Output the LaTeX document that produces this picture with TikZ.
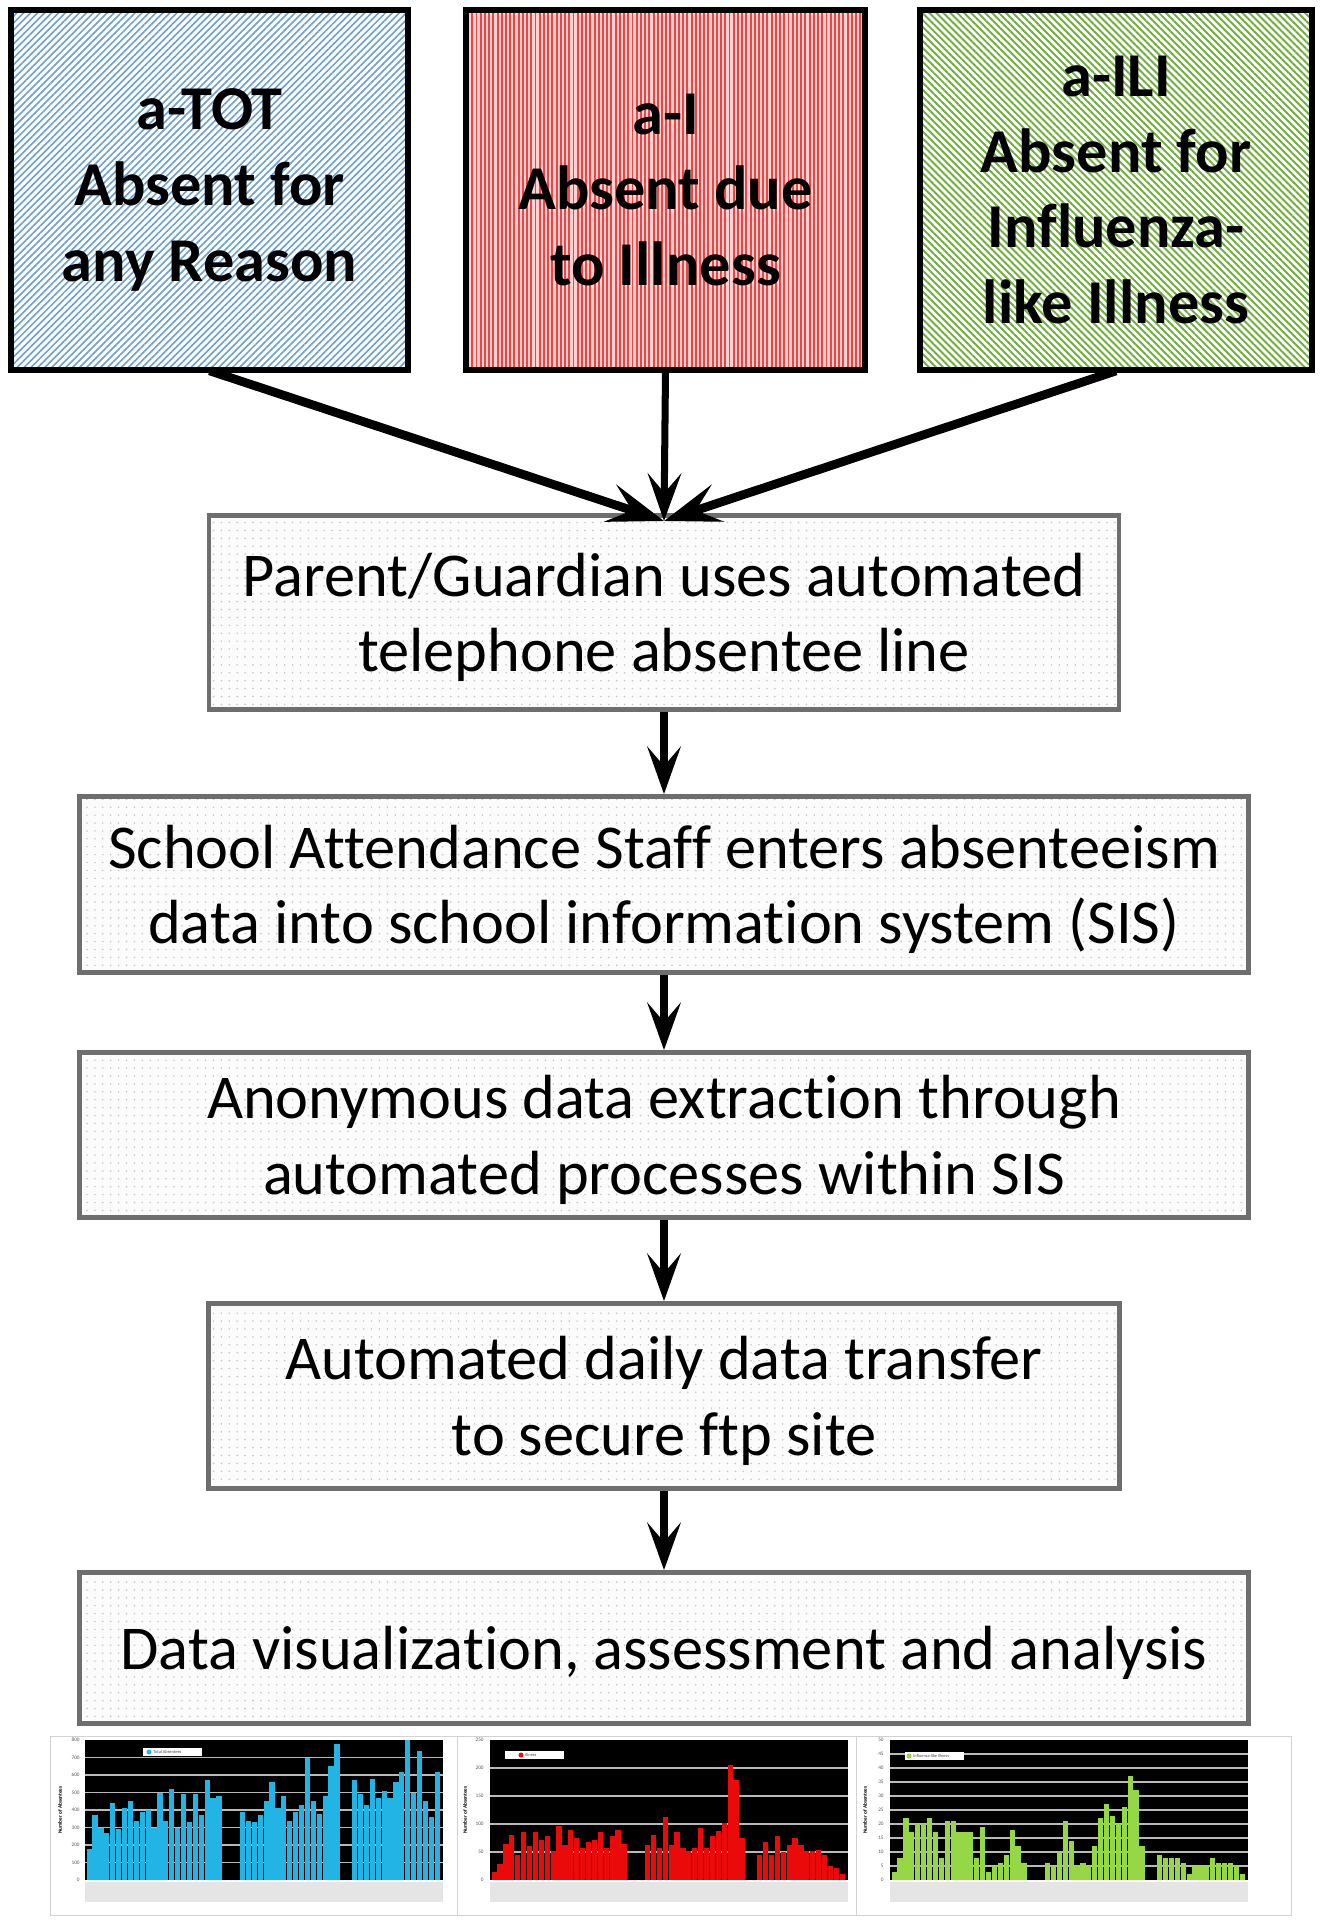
\documentclass[tikz,border=0pt]{standalone}
\usepackage{fontspec}
\setmainfont{Carlito}[Ligatures=NoCommon]
\usepackage{tikz}
\usetikzlibrary{arrows.meta, positioning, patterns.meta}

\definecolor{hatchblue}{RGB}{105,160,210}
\definecolor{hatchred}{RGB}{235,70,70}
\definecolor{hatchgreen}{RGB}{110,175,60}
\definecolor{boxgray}{RGB}{110,110,110}
\definecolor{barblue}{RGB}{35,180,230}
\definecolor{barred}{RGB}{235,10,10}
\definecolor{bargreen}{RGB}{150,215,70}

\begin{document}
\begin{tikzpicture}[x=0.02cm, y=-0.02cm,
		absence/.style={draw=black, line width=3.4pt, minimum height=7.2cm, align=center, inner sep=0pt, font=\bfseries\fontsize{35.5}{43}\selectfont},
		process/.style={draw=boxgray, line width=2.7pt, preaction={fill=gray!3}, pattern={Dots[distance=4.5pt, radius=0.5pt]}, pattern color=gray!45, align=center, inner sep=0pt, text depth=0pt, font=\fontsize{35.5}{43}\selectfont},
		feed/.style={line width=5pt, -{Stealth[length=32pt, width=22pt, inset=13pt]}},
		flow/.style={line width=4pt, -{Stealth[length=27pt, width=19pt, inset=11pt]}},
		chart/.style={draw=gray!35, line width=0.5pt, fill=white},
		gridline/.style={draw=gray!55, line width=0.6pt},
		tick/.style={font=\fontsize{3}{3}\selectfont, text=gray!70!black, inner sep=0pt, anchor=east},
		axistitle/.style={font=\bfseries\fontsize{3}{3}\selectfont, rotate=90, inner sep=0pt},
		legend/.style={fill=white, minimum width=1.18cm, minimum height=0.16cm, inner sep=0pt},
		legendtext/.style={font=\fontsize{2.5}{3}\selectfont, text=gray!60!black, inner sep=0pt, anchor=west}
		]
		\useasboundingbox (0,0) rectangle (1332,1922);
		
		% absence categories
		\node [absence, minimum width=7.94cm, preaction={fill=white}, pattern={Lines[angle=45, distance=2.8pt, line width=0.9pt]}, pattern color=hatchblue] (tot) at (209.5,190) {a-TOT\\Absent for\\any Reason};
		\node [absence, minimum width=7.98cm, preaction={fill=red!18}, pattern={Lines[angle=90, distance=2.4pt, line width=1.1pt]}, pattern color=hatchred] (ill) at (665.5,190) {a-I\\Absent due\\to Illness};
		\node [absence, minimum width=7.84cm, preaction={fill=white}, pattern={Lines[angle=-45, distance=2.8pt, line width=1.1pt]}, pattern color=hatchgreen] (ili) at (1116,190) {a-ILI\\Absent for\\Influenza-\\like Illness};
		
		% process steps
		\node [process, minimum width=18.2cm, minimum height=3.88cm] (call) at (664,612.5) {Parent/Guardian uses automated\\telephone absentee line};
		\node [process, minimum width=23.38cm, minimum height=3.52cm] (sis) at (664,884.5) {School Attendance Staff enters absenteeism\\data into school information system (SIS)};
		\node [process, minimum width=23.38cm, minimum height=3.3cm] (extract) at (664,1135) {Anonymous data extraction through\\automated processes within SIS};
		\node [process, minimum width=18.22cm, minimum height=3.7cm] (ftp) at (664,1396) {Automated daily data transfer\\to secure ftp site};
		\node [process, minimum width=23.38cm, minimum height=3.02cm] (analysis) at (664,1648) {Data visualization, assessment and analysis};
		
		\coordinate (merge) at (664,521);
		
		\draw[feed] (tot.south) -- (merge);
		\draw[flow] (ill.south) -- (merge);
		\draw[feed] (ili.south) -- (merge);
		
		\draw[flow] (call) -- (sis);
		\draw[flow] (sis) -- (extract);
		\draw[flow] (extract) -- (ftp);
		\draw[flow] (ftp) -- (analysis);
		
		% chart of all absences
		\draw[chart] (50,1736) rectangle (457,1915);
		\fill[black] (85,1740) rectangle (443,1880);
		\fill[gray!20] (85,1882) rectangle (443,1902);
		\foreach \k in {1,...,7}
			\draw[gridline] (85,{1880-\k*17.5}) -- (443,{1880-\k*17.5});
		\foreach \v [count=\i from 0] in {180,370,300,270,440,290,410,450,340,390,400,300,500,340,520,300,490,330,490,370,570,470,480,0,0,0,390,340,330,370,450,560,410,480,340,390,430,700,450,380,480,650,780,0,0,570,490,430,580,470,510,470,560,620,800,500,740,450,360,620}
			\fill[barblue] ({86.5+\i*5.9},1880) rectangle ({91.7+\i*5.9},{1880-\v*0.175});
		\foreach \t [evaluate=\t as \lab using int(100*\t)] in {0,...,8}
			\node[tick] (ta\t) at (80,{1880-\t*17.5}) {\lab};
		\node[axistitle] (ya) at (60,1810) {Number of Absentees};
		\node[legend] (la) at (172.5,1752) {};
		\fill[barblue] (149,1752) circle (2.5);
		\node[legendtext] (lta) at (153,1752) {Total Absentees};
		
		% chart of illness absences
		\draw[chart] (457,1736) rectangle (856,1915);
		\fill[black] (490,1740) rectangle (848,1880);
		\fill[gray!20] (490,1882) rectangle (848,1902);
		\foreach \k in {1,...,4}
			\draw[gridline] (490,{1880-\k*28}) -- (848,{1880-\k*28});
		\foreach \v [count=\i from 0] in {15,28,65,80,45,85,60,85,72,78,52,97,62,90,75,58,68,72,85,58,78,90,65,0,0,0,62,80,58,112,62,85,58,52,58,93,58,78,88,102,205,178,75,0,0,45,68,45,78,50,62,75,62,52,52,53,45,25,22,10}
			\fill[barred] ({491.5+\i*5.9},1880) rectangle ({496.7+\i*5.9},{1880-\v*0.56});
		\foreach \t [evaluate=\t as \lab using int(50*\t)] in {0,...,5}
			\node[tick] (tb\t) at (484,{1880-\t*28}) {\lab};
		\node[axistitle] (yb) at (465,1810) {Number of Absentees};
		\node[legend] (lb) at (534,1755) {};
		\fill[barred] (521,1755) circle (2.5);
		\node[legendtext] (ltb) at (525,1755) {Illness};
		
		% chart of influenza-like illness absences
		\draw[chart] (856,1736) rectangle (1291,1915);
		\fill[black] (890,1740) rectangle (1248,1880);
		\fill[gray!20] (890,1882) rectangle (1248,1902);
		\foreach \k in {1,...,9}
			\draw[gridline] (890,{1880-\k*14}) -- (1248,{1880-\k*14});
		\foreach \v [count=\i from 0] in {3,8,22,17,20,20,22,17,8,21,21,17,17,17,8,19,3,5,6,9,18,12,6,0,0,0,6,5,10,21,14,5,6,5,12,22,27,23,20,26,37,32,12,0,0,9,8,8,8,6,2,5,5,5,8,6,6,6,5,2}
			\fill[bargreen] ({891.5+\i*5.9},1880) rectangle ({896.7+\i*5.9},{1880-\v*2.8});
		\foreach \t [evaluate=\t as \lab using int(5*\t)] in {0,...,10}
			\node[tick] (tc\t) at (884,{1880-\t*14}) {\lab};
		\node[axistitle] (yc) at (865,1810) {Number of Absentees};
		\node[legend] (lc) at (934,1756) {};
		\fill[bargreen] (909,1756) circle (2.5);
		\node[legendtext] (ltc) at (913,1756) {Influenza-like Illness};
		
	\end{tikzpicture}
\end{document}
